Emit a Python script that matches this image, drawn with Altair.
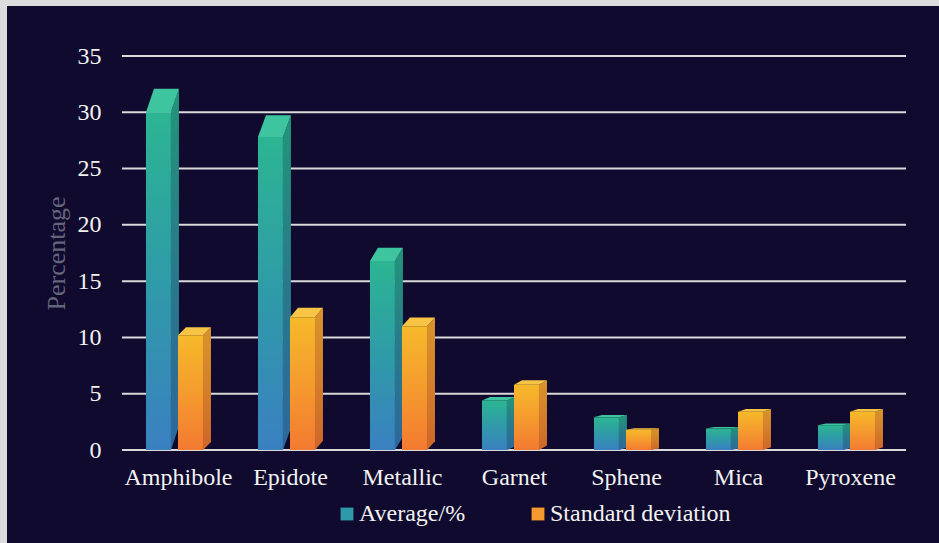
import altair as alt
import pandas as pd

# Heavy-mineral composition: mean share and standard deviation per mineral group
categories = ["Amphibole", "Epidote", "Metallic", "Garnet", "Sphene", "Mica", "Pyroxene"]
average = [30.0, 27.8, 16.8, 4.4, 2.9, 1.9, 2.2]
std_dev = [10.2, 11.8, 11.0, 5.8, 1.8, 3.4, 3.4]
series_names = ["Average/%", "Standard deviation"]
y_ticks = [0, 5, 10, 15, 20, 25, 30, 35]

# Bar geometry in category units (one category = 1.0 on the x scale)
BAR_W = 0.223
OFFSETS = [-0.286, 0.0]
DEPTH_X = 0.0714
DEPTH_K = 0.07  # vertical depth of the extruded face, relative to the bar value

FONT = "Liberation Serif"
BG = "#0f0a2e"


def build_faces(values, k):
    front, side, top = [], [], []
    for i, v in enumerate(values):
        xl = i + OFFSETS[k]
        xr = xl + BAR_W
        dv = DEPTH_K * v
        bar = f"{k}-{i}"
        front.append({"bar": bar, "x": xl, "x2": xr, "y": 0.0, "y2": v})
        side += [
            {"bar": bar, "x": xr, "y": v, "y2": 0.0},
            {"bar": bar, "x": xr + DEPTH_X, "y": v + dv, "y2": dv},
        ]
        top += [
            {"bar": bar, "x": xl, "y": v, "y2": v},
            {"bar": bar, "x": xl + DEPTH_X, "y": v + dv, "y2": v},
            {"bar": bar, "x": xr, "y": v + dv, "y2": v},
            {"bar": bar, "x": xr + DEPTH_X, "y": v + dv, "y2": v + dv},
        ]
    return pd.DataFrame(front), pd.DataFrame(side), pd.DataFrame(top)


def grad(top_color, bottom_color, mid=None):
    stops = [alt.GradientStop(color=top_color, offset=0)]
    if mid:
        stops.append(alt.GradientStop(color=mid, offset=0.5))
    stops.append(alt.GradientStop(color=bottom_color, offset=1))
    return alt.Gradient(gradient="linear", stops=stops, x1=0, x2=0, y1=0, y2=1)


label_expr = "[" + ",".join(f"'{c}'" for c in categories) + "][datum.value]"

x_enc = alt.X(
    "x:Q",
    scale=alt.Scale(domain=[-0.5, len(categories) - 0.5], nice=False, zero=False),
    axis=alt.Axis(
        values=list(range(len(categories))),
        labelExpr=label_expr,
        grid=False, domain=False, ticks=False,
        labelFont=FONT, labelFontSize=24, labelColor="#f2f2f2",
        labelPadding=15, title=None, zindex=1,
    ),
)
y_enc = alt.Y(
    "y:Q",
    stack=None,
    scale=alt.Scale(domain=[0, 35], nice=False),
    axis=alt.Axis(
        values=y_ticks,
        grid=False, domain=False, ticks=False,
        labelFont=FONT, labelFontSize=24, labelColor="#f2f2f2",
        labelPadding=21,
        title="Percentage", titleFont=FONT, titleFontSize=26,
        titleFontWeight="normal", titleColor="#66647a", titlePadding=8,
        zindex=1,
    ),
)

styles = [
    {  # average
        "front": grad("#2cb592", "#3a80c1", "#2f9ba8"),
        "side": grad("#22957a", "#2e679c", "#287a8a"),
        "top": "#3ec59f",
    },
    {  # standard deviation
        "front": grad("#f6b92b", "#f37a31", "#f59b2e"),
        "side": grad("#d9942a", "#cf6529", "#d47f2a"),
        "top": "#f8c445",
    },
]

layers = []

# dark panel behind the plot
panel = alt.Chart(pd.DataFrame({"p": [0]})).mark_rect(color=BG).encode(
    x=alt.value(-115), x2=alt.value(830), y=alt.value(-50), y2=alt.value(500)
)
layers.append(panel)

# horizontal gridlines at the tick values
grid = alt.Chart(pd.DataFrame({"y": y_ticks})).mark_rule(
    color="#dadada", strokeWidth=2
).encode(y=y_enc)
layers.append(grid)

for k, values in enumerate([average, std_dev]):
    front_df, side_df, top_df = build_faces(values, k)
    st = styles[k]
    side = alt.Chart(side_df).mark_area(orient="vertical", fill=st["side"], stroke=None).encode(
        x=x_enc, y=y_enc, y2="y2", detail="bar:N"
    )
    top = alt.Chart(top_df).mark_area(orient="vertical", fill=st["top"], stroke=None).encode(
        x=x_enc, y=y_enc, y2="y2", detail="bar:N"
    )
    front = alt.Chart(front_df).mark_rect(fill=st["front"]).encode(
        x=x_enc, x2="x2", y=y_enc, y2="y2"
    )
    layers += [side, top, front]

# legend carrier
legend_df = pd.DataFrame({"series": series_names, "x": [0.0, 0.0], "y": [0.0, 0.0]})
legend_layer = alt.Chart(legend_df).mark_square(opacity=0).encode(
    x=x_enc, y=y_enc,
    color=alt.Color(
        "series:N",
        scale=alt.Scale(domain=series_names, range=["#2e9aa9", "#f59a2e"]),
        legend=alt.Legend(
            title=None, orient="none", legendX=213, legendY=446,
            direction="horizontal", symbolType="square", symbolSize=165,
            symbolOpacity=1, symbolStrokeWidth=0,
            labelFont=FONT, labelFontSize=24, labelColor="#f2f2f2",
            labelOffset=0, columnPadding=60, labelLimit=300,
        ),
    ),
)
layers.append(legend_layer)

chart = alt.layer(*layers).properties(
    width=784,
    height=394,
    autosize="none",
    padding={"left": 122, "top": 56, "right": 33, "bottom": 93},
    background="#dcdcdc",
).configure_view(stroke=None)

chart.save("out.html", embed_options={"renderer": "svg", "actions": False})
